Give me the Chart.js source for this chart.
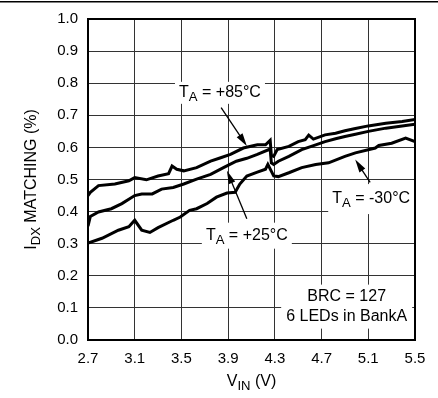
<!DOCTYPE html>
<html>
<head>
<meta charset="utf-8">
<script src="https://cdn.jsdelivr.net/npm/chart.js@4"></script>
<style>
  html, body { margin: 0; padding: 0; background: #fff; }
  #wrap { width: 438px; height: 398px; }
</style>
</head>
<body>
<div id="wrap"><canvas id="myChart" width="438" height="398"></canvas></div>
<script>
// values: V_IN (V) against I_DX matching (%)
var vin85 = [2.70, 2.72, 2.79, 2.93, 3.05, 3.10, 3.20, 3.30, 3.39, 3.42, 3.46, 3.52, 3.63, 3.75, 3.83, 3.92, 4.03, 4.15, 4.22, 4.26, 4.27, 4.29, 4.32, 4.42, 4.50, 4.56, 4.59, 4.63, 4.73, 4.82, 4.90, 4.99, 5.10, 5.25, 5.39, 5.50];
var match85 = [0.450, 0.460, 0.481, 0.486, 0.496, 0.506, 0.499, 0.511, 0.518, 0.542, 0.532, 0.527, 0.537, 0.557, 0.567, 0.578, 0.598, 0.608, 0.608, 0.622, 0.575, 0.572, 0.593, 0.603, 0.618, 0.624, 0.638, 0.626, 0.639, 0.644, 0.652, 0.659, 0.667, 0.675, 0.681, 0.687];

var vin25 = [2.70, 2.72, 2.79, 2.90, 2.99, 3.10, 3.16, 3.25, 3.33, 3.43, 3.52, 3.63, 3.75, 3.86, 3.97, 4.06, 4.15, 4.26, 4.27, 4.29, 4.33, 4.42, 4.53, 4.65, 4.73, 4.82, 4.90, 4.99, 5.10, 5.25, 5.39, 5.50];
var match25 = [0.355, 0.385, 0.399, 0.409, 0.425, 0.450, 0.455, 0.455, 0.470, 0.475, 0.486, 0.501, 0.516, 0.537, 0.557, 0.566, 0.578, 0.595, 0.552, 0.547, 0.557, 0.572, 0.593, 0.608, 0.618, 0.627, 0.634, 0.641, 0.650, 0.660, 0.667, 0.672];

var vinM30 = [2.70, 2.82, 2.96, 3.05, 3.10, 3.16, 3.23, 3.30, 3.43, 3.49, 3.57, 3.63, 3.72, 3.80, 3.89, 3.96, 4.00, 4.06, 4.15, 4.22, 4.24, 4.29, 4.33, 4.42, 4.53, 4.65, 4.76, 4.90, 4.99, 5.16, 5.19, 5.30, 5.42, 5.50];
var matchM30 = [0.302, 0.317, 0.342, 0.353, 0.373, 0.342, 0.335, 0.350, 0.373, 0.383, 0.404, 0.409, 0.425, 0.445, 0.458, 0.460, 0.486, 0.511, 0.523, 0.532, 0.547, 0.511, 0.509, 0.521, 0.537, 0.547, 0.552, 0.572, 0.583, 0.598, 0.606, 0.613, 0.629, 0.618];

var xTicks = [2.7, 3.1, 3.5, 3.9, 4.3, 4.7, 5.1, 5.5];
var yTicks = [0.0, 0.1, 0.2, 0.3, 0.4, 0.5, 0.6, 0.7, 0.8, 0.9, 1.0];

var FONT = '"Liberation Sans", Arial, sans-serif';

function pts(xs, ys) {
    return xs.map(function (x, i) { return { x: x, y: ys[i] }; });
}

function series(xs, ys) {
    return {
        data: pts(xs, ys),
        borderColor: '#000',
        borderWidth: 3,
        pointRadius: 0,
        tension: 0,
        fill: false
    };
}

// text with subscripts: parts alternate normal, subscript, normal...
function drawParts(ctx, parts, x, y, size) {
    var widths = [], total = 0;
    parts.forEach(function (p, i) {
        ctx.font = (i % 2 ? size * 0.82 : size) + 'px ' + FONT;
        var w = ctx.measureText(p).width;
        widths.push(w);
        total += w;
    });
    var cx = x - total / 2;
    ctx.textAlign = 'left';
    ctx.textBaseline = 'middle';
    parts.forEach(function (p, i) {
        ctx.font = (i % 2 ? size * 0.82 : size) + 'px ' + FONT;
        ctx.fillText(p, cx, i % 2 ? y + size * 0.28 : y);
        cx += widths[i];
    });
}

function arrow(ctx, x1, y1, x2, y2) {
    var a = Math.atan2(y2 - y1, x2 - x1);
    var c = Math.cos(a), s = Math.sin(a);
    ctx.beginPath();
    ctx.moveTo(x1, y1);
    ctx.lineTo(x2 - 8 * c, y2 - 8 * s);
    ctx.stroke();
    ctx.beginPath();
    ctx.moveTo(x2, y2);
    ctx.lineTo(x2 - 13 * c + 3.5 * s, y2 - 13 * s - 3.5 * c);
    ctx.lineTo(x2 - 13 * c - 3.5 * s, y2 - 13 * s + 3.5 * c);
    ctx.closePath();
    ctx.fill();
}

var notes = [
    { lines: [['T', 'A', ' = +85°C']], x: 3.83, y: 0.77, w: 90, h: 22, arrow: [3.84, 0.724, 4.06, 0.604] },
    { lines: [['T', 'A', ' = +25°C']], x: 4.06, y: 0.325, w: 90, h: 26, arrow: [4.06, 0.378, 3.89, 0.527] },
    { lines: [['T', 'A', ' = -30°C']], x: 5.125, y: 0.439, w: 86, h: 30, arrow: [5.116, 0.491, 4.988, 0.562] },
    { lines: [['BRC = 127'], ['6 LEDs in BankA']], x: 4.915, y: 0.104, w: 131, h: 44 }
];

var decor = {
    id: 'decor',
    beforeDatasetsDraw: function (chart) {
        var ctx = chart.ctx, xs = chart.scales.x, ys = chart.scales.y;
        ctx.save();
        ctx.fillStyle = '#fff';
        notes.forEach(function (n) {
            var px = xs.getPixelForValue(n.x), py = ys.getPixelForValue(n.y);
            ctx.fillRect(px - n.w / 2, py - n.h / 2, n.w, n.h);
        });
        ctx.restore();
    },
    afterDatasetsDraw: function (chart) {
        var ctx = chart.ctx, xs = chart.scales.x, ys = chart.scales.y, a = chart.chartArea;
        ctx.save();
        ctx.fillStyle = '#000';
        ctx.strokeStyle = '#000';
        ctx.lineWidth = 1.3;
        notes.forEach(function (n) {
            var px = xs.getPixelForValue(n.x), py = ys.getPixelForValue(n.y);
            var lh = 20, top = py - (n.lines.length - 1) * lh / 2;
            n.lines.forEach(function (l, i) {
                drawParts(ctx, l, px, top + i * lh, 16);
            });
            if (n.arrow) {
                arrow(ctx, xs.getPixelForValue(n.arrow[0]), ys.getPixelForValue(n.arrow[1]),
                    xs.getPixelForValue(n.arrow[2]), ys.getPixelForValue(n.arrow[3]));
            }
        });
        // frame
        ctx.lineWidth = 2;
        ctx.strokeRect(a.left, a.top, a.right - a.left, a.bottom - a.top);
        ctx.restore();
    },
    afterDraw: function (chart) {
        var ctx = chart.ctx, a = chart.chartArea;
        ctx.save();
        ctx.fillStyle = '#000';
        // rule across the top of the page
        ctx.fillRect(0, 1, chart.width, 1.5);
        drawParts(ctx, ['V', 'IN', ' (V)'], (a.left + a.right) / 2, 382, 16);
        ctx.translate(32, (a.top + a.bottom) / 2);
        ctx.rotate(-Math.PI / 2);
        drawParts(ctx, ['I', 'DX', ' MATCHING (%)'], 0, 0, 16);
        ctx.restore();
    }
};

var ctx = document.getElementById('myChart').getContext('2d');
var myChart = new Chart(ctx, {
    type: 'line',
    data: {
        datasets: [series(vin85, match85), series(vin25, match25), series(vinM30, matchM30)]
    },
    options: {
        responsive: false,
        animation: false,
        devicePixelRatio: 1,
        layout: { padding: { top: 14, right: 23, left: 0, bottom: 0 } },
        plugins: {
            legend: { display: false },
            tooltip: { enabled: false }
        },
        scales: {
            x: {
                type: 'linear',
                min: 2.7,
                max: 5.5,
                afterBuildTicks: function (s) { s.ticks = xTicks.map(function (v) { return { value: v }; }); },
                afterFit: function (s) { s.height = 58; },
                grid: { color: '#333', lineWidth: 1, drawTicks: false },
                border: { display: false },
                ticks: {
                    color: '#000',
                    padding: 10,
                    maxRotation: 0,
                    font: { family: FONT, size: 15 },
                    callback: function (v) { return Number(v).toFixed(1); }
                }
            },
            y: {
                min: 0,
                max: 1,
                afterBuildTicks: function (s) { s.ticks = yTicks.map(function (v) { return { value: v }; }); },
                afterFit: function (s) { s.width = 88; },
                grid: { color: '#333', lineWidth: 1, drawTicks: false },
                border: { display: false },
                ticks: {
                    color: '#000',
                    padding: 10,
                    font: { family: FONT, size: 15 },
                    callback: function (v) { return Number(v).toFixed(1); }
                }
            }
        }
    },
    plugins: [decor]
});
</script>
</body>
</html>
